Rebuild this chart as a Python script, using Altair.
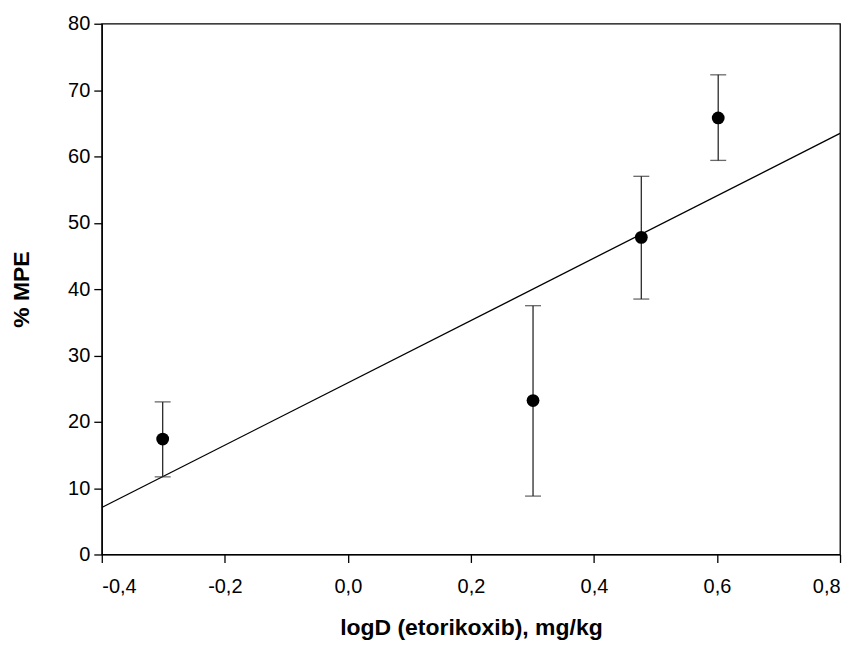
import altair as alt
import pandas as pd

log_dose = [-0.301, 0.301, 0.477, 0.602]
mpe_mean = [17.4, 23.2, 47.8, 65.8]
mpe_low = [11.7, 8.8, 38.5, 59.4]
mpe_high = [23.0, 37.5, 57.0, 72.3]

x_ticks = [-0.4, -0.2, 0.0, 0.2, 0.4, 0.6, 0.8]
y_ticks = [0, 10, 20, 30, 40, 50, 60, 70, 80]

df = pd.DataFrame({"x": log_dose, "y": mpe_mean, "lo": mpe_low, "hi": mpe_high})

xscale = alt.Scale(domain=[-0.4, 0.8], nice=False, zero=False)
yscale = alt.Scale(domain=[0, 80], nice=False)

xaxis = alt.Axis(
    title="logD (etorikoxib), mg/kg", values=x_ticks,
    labelExpr="(datum.value < -1e-9 ? '-' : '') + replace(format(abs(datum.value), '.1f'), '.', ',')",
    titlePadding=20, labelPadding=14,
)
yaxis = alt.Axis(title="% MPE", values=y_ticks, format="d", titlePadding=34, labelPadding=4)

base = alt.Chart(df)

reg = base.transform_regression("x", "y", extent=[-0.4, 0.8]).mark_line(
    color="black", strokeWidth=1.3, clip=True
).encode(
    x=alt.X("x:Q", scale=xscale, axis=xaxis),
    y=alt.Y("y:Q", scale=yscale, axis=yaxis),
)

bars = base.mark_rule(color="#2a2a2a", strokeWidth=1.3).encode(
    x="x:Q", y="lo:Q", y2="hi:Q"
)
cap_lo = base.mark_tick(color="#2a2a2a", orient="horizontal", size=16, thickness=1.3).encode(
    x="x:Q", y="lo:Q"
)
cap_hi = base.mark_tick(color="#2a2a2a", orient="horizontal", size=16, thickness=1.3).encode(
    x="x:Q", y="hi:Q"
)
pts = base.mark_circle(color="black", opacity=1, size=165).encode(x="x:Q", y="y:Q")

chart = alt.layer(reg, bars, cap_lo, cap_hi, pts).properties(
    width=740, height=532,
    autosize=alt.AutoSizeParams(type="none"),
    padding={"left": 94, "top": 15, "right": 10, "bottom": 100},
).configure_view(
    stroke="black", strokeWidth=1.3
).configure_axis(
    grid=False, domainColor="black", tickColor="black", tickSize=8,
    domainWidth=1.3, tickWidth=1.3,
    labelFont="Liberation Sans", labelFontSize=20, labelColor="black",
    titleFont="Liberation Sans", titleFontSize=23, titleFontWeight="bold",
    titleColor="black",
)

chart.save("out.html", embed_options={"renderer": "svg", "actions": False})
